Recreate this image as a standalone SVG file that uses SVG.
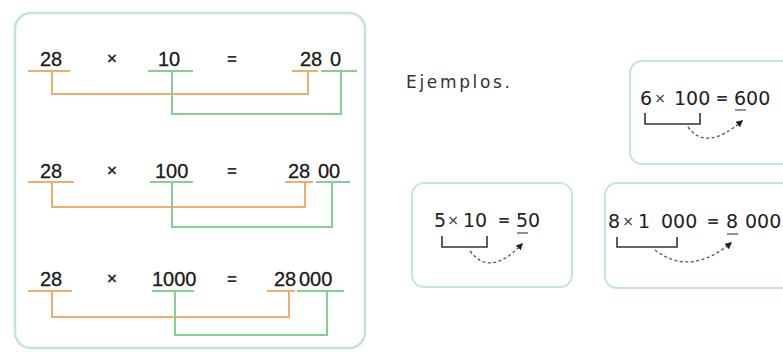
<svg xmlns="http://www.w3.org/2000/svg" width="783" height="352" viewBox="0 0 783 352">
  <style>
    .frame { fill: #ffffff; stroke: #c2e2e2; stroke-width: 2.5; }
    .card { fill: #ffffff; stroke: #c6e2e4; stroke-width: 2; }
    .big { font-family: "Liberation Sans", Arial, sans-serif; font-size: 20px; fill: #1a1a1a; stroke: #1a1a1a; stroke-width: 0.3; }
    .op { font-family: "Liberation Sans", Arial, sans-serif; font-size: 17px; font-weight: bold; fill: #333; text-anchor: middle; }
    .small { font-family: "DejaVu Sans", "Liberation Sans", sans-serif; font-size: 19px; fill: #222; }
    .smallop { font-family: "DejaVu Sans", "Liberation Sans", sans-serif; font-size: 14px; fill: #333; text-anchor: middle; }
    .eq { font-family: "DejaVu Sans", "Liberation Sans", sans-serif; font-size: 15px; font-weight: bold; fill: #333; text-anchor: middle; }
    .label { font-family: "DejaVu Sans", "Liberation Sans", sans-serif; font-size: 17px; fill: #333; }
    .orange { fill: none; stroke: #f3ac66; stroke-width: 2; }
    .green { fill: none; stroke: #86cf92; stroke-width: 2; }
    .ul { fill: none; stroke: #555; stroke-width: 1.3; }
    .bracket { fill: none; stroke: #333; stroke-width: 1.6; }
    .hop { fill: none; stroke: #555; stroke-width: 1.3; stroke-dasharray: 3 2.5; }
  </style>
  <defs>
    <marker id="tip" viewBox="0 0 10 10" refX="8" refY="5" markerWidth="7" markerHeight="7" markerUnits="userSpaceOnUse" orient="auto">
      <path d="M0,0 L10,5 L0,10 Z" fill="#222"/>
    </marker>
  </defs>

  <rect width="783" height="352" fill="#ffffff"/>

  <!-- panel with the three products -->
  <g id="panel">
    <rect class="frame" x="15" y="13" width="350" height="335" rx="16"/>
  </g>

  <g id="row-10">
    <text class="big" x="40" y="66">28</text>
    <text class="op" x="112" y="64">×</text>
    <text class="big" x="158" y="66">10</text>
    <text class="op" x="232" y="65">=</text>
    <text class="big" x="300" y="66">28</text>
    <text class="big" x="330" y="66">0</text>
  </g>
  <g id="row-100">
    <text class="big" x="40" y="178">28</text>
    <text class="op" x="112" y="176">×</text>
    <text class="big" x="155" y="178">100</text>
    <text class="op" x="232" y="177">=</text>
    <text class="big" x="288" y="178">28</text>
    <text class="big" x="318" y="178">00</text>
  </g>
  <g id="row-1000">
    <text class="big" x="40" y="286">28</text>
    <text class="op" x="112" y="284">×</text>
    <text class="big" x="152" y="286">1000</text>
    <text class="op" x="232" y="285">=</text>
    <text class="big" x="274" y="286">28</text>
    <text class="big" x="299" y="286">000</text>
  </g>

  <g id="heading">
    <text class="label" x="406" y="88" textLength="104" lengthAdjust="spacing">Ejemplos.</text>
  </g>

  <g id="example-6">
    <rect class="card" x="630" y="61" width="175" height="103" rx="12"/>
    <text class="small" x="640" y="105">6</text>
    <text class="smallop" x="660" y="103">×</text>
    <text class="small" x="674" y="105">100</text>
    <text class="eq" x="722" y="103">=</text>
    <text class="small" x="734" y="105">600</text>
    <path class="ul" d="M735 110 H746"/>
  </g>

  <g id="example-5">
    <rect class="card" x="412" y="183" width="160" height="104" rx="12"/>
    <text class="small" x="434" y="227">5</text>
    <text class="smallop" x="453" y="225">×</text>
    <text class="small" x="463" y="227">10</text>
    <text class="eq" x="504" y="225">=</text>
    <text class="small" x="516" y="227">50</text>
    <path class="ul" d="M517 233 H528"/>
  </g>

  <g id="example-8">
    <rect class="card" x="605" y="183" width="200" height="105" rx="12"/>
    <text class="small" x="608" y="228">8</text>
    <text class="smallop" x="628" y="226">×</text>
    <text class="small" x="638" y="228">1</text>
    <text class="small" x="661" y="228">000</text>
    <text class="eq" x="713" y="226">=</text>
    <text class="small" x="726" y="228">8</text>
    <text class="small" x="745" y="228">000</text>
    <path class="ul" d="M727 234 H738"/>
  </g>

  <!-- colour links between factors and product digits, and the jump arrows -->
  <g id="connectors">
    <path class="orange" d="M28 71 H70 M292 71 H318"/>
    <path class="green" d="M148 71 H193 M321 71 H357"/>
    <path class="orange" d="M52 71 V94 H308 V71"/>
    <path class="green" d="M172 71 V114 H341 V71"/>

    <path class="orange" d="M28 182 H74 M285 182 H313"/>
    <path class="green" d="M150 182 H193 M316 182 H350"/>
    <path class="orange" d="M52 182 V207 H305 V182"/>
    <path class="green" d="M172 182 V227 H332 V182"/>

    <path class="orange" d="M28 291 H72 M267 291 H295"/>
    <path class="green" d="M152 291 H194 M297 291 H344"/>
    <path class="orange" d="M52 291 V317 H289 V291"/>
    <path class="green" d="M175 291 V335 H327 V291"/>

    <path class="bracket" d="M645 113 V124 H700 V113"/>
    <path class="hop" d="M688 127 Q706 152 742 121" marker-end="url(#tip)"/>
    <path class="bracket" d="M442 236 V247 H487 V236"/>
    <path class="hop" d="M470 251 Q490 278 522 244" marker-end="url(#tip)"/>
    <path class="bracket" d="M617 237 V247 H677 V237"/>
    <path class="hop" d="M655 250 Q690 277 731 243" marker-end="url(#tip)"/>
  </g>
</svg>
